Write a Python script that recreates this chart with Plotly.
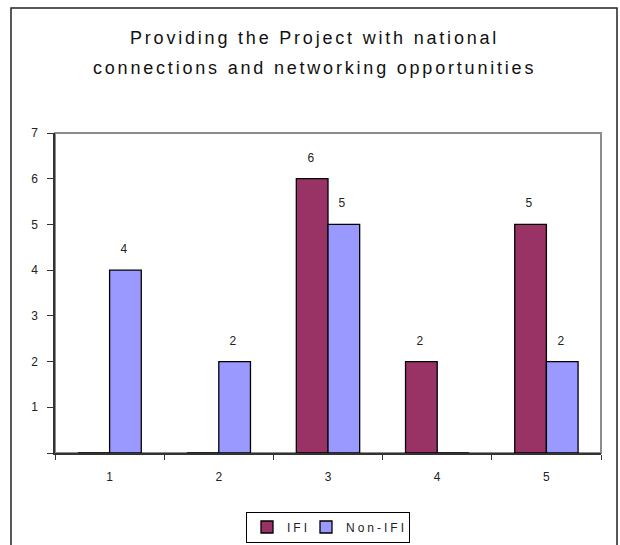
import plotly.graph_objects as go

categories = ["1", "2", "3", "4", "5"]
ifi = [0, 0, 6, 2, 5]
non_ifi = [4, 2, 5, 0, 2]
series_names = ["IFI", "Non-IFI"]
series_colors = ["#993366", "#9999FF"]
y_ticks = [0, 1, 2, 3, 4, 5, 6, 7]
y_ticktext = ["", "1", "2", "3", "4", "5", "6", "7"]
title_lines = ["Providing the Project with national",
               "connections and networking opportunities"]

W, H = 620, 545
L, R, T, B = 55, 19, 133, 92
pw = W - L - R
ph = H - T - B


def px(xp):
    return (xp - L) / pw


def py(yp):
    return (H - B - yp) / ph


bargap = 0.42
FONT = "Liberation Sans, Arial, sans-serif"
legend_widths = [14, 58]

fig = go.Figure()
for name, vals, col, lw in zip(series_names, [ifi, non_ifi], series_colors, legend_widths):
    fig.add_bar(x=categories, y=vals, name=name, legendwidth=lw,
                marker=dict(color=col, line=dict(color="black", width=1.3)))

bar_w = pw / len(categories) * (1 - bargap) / 2
annotations = []
for s, vals in enumerate([ifi, non_ifi]):
    for ci, v in enumerate(vals):
        if v:
            annotations.append(dict(x=ci, y=v, xref="x", yref="y", text=str(v),
                                    showarrow=False, xshift=(s - 0.5) * bar_w,
                                    yshift=21, yanchor="middle",
                                    font=dict(family=FONT, size=12, color="#222")))
for i, line in enumerate(title_lines):
    annotations.append(dict(x=px(314.5), y=py(38 + 30 * i), xref="paper", yref="paper",
                            text=line, showarrow=False, xanchor="center", yanchor="middle",
                            font=dict(family=FONT, size=18, color="#111")))

shapes = [
    dict(type="rect", xref="paper", yref="paper", x0=0, x1=1, y0=0, y1=1,
         line=dict(color="#8c8c8c", width=2), layer="below"),
    dict(type="rect", xref="paper", yref="paper", x0=px(11), x1=px(617),
         y0=py(570), y1=py(8), line=dict(color="#222", width=1.5), layer="below"),
]

fig.update_layout(
    width=W, height=H,
    margin=dict(l=L, r=R, t=T, b=B, autoexpand=False),
    paper_bgcolor="white", plot_bgcolor="white",
    barmode="group", bargap=bargap, bargroupgap=0,
    font=dict(family=FONT, size=12, color="#222"),
    annotations=annotations, shapes=shapes,
    showlegend=True,
    legend=dict(orientation="h", x=px(328), xanchor="center", y=py(527), yanchor="middle",
                bordercolor="black", borderwidth=1, bgcolor="white",
                font=dict(family=FONT, size=12, color="#222"),
                itemwidth=30, tracegroupgap=0),
    xaxis=dict(type="category", range=[-0.5, len(categories) - 0.5],
               showline=True, linecolor="#333", linewidth=1.5,
               ticks="outside", tickson="boundaries", ticklen=5, tickcolor="#333",
               tickwidth=1, ticklabelstandoff=12, showgrid=False, zeroline=False,
               tickfont=dict(family=FONT, size=12, color="#222")),
    yaxis=dict(range=[0, 7], tickvals=y_ticks, ticktext=y_ticktext, showline=True,
               linecolor="#333", linewidth=1.5, ticks="outside", ticklen=6,
               tickcolor="#333", tickwidth=1, ticklabelstandoff=7, showgrid=False,
               zeroline=False, tickfont=dict(family=FONT, size=12, color="#222")),
)

post = """
var st=document.createElement('style');
st.innerHTML='.annotation-text{letter-spacing:2.8px}.legendtext{letter-spacing:3px}';
document.head.appendChild(st);
"""
fig.write_html("out.html", post_script=post)
